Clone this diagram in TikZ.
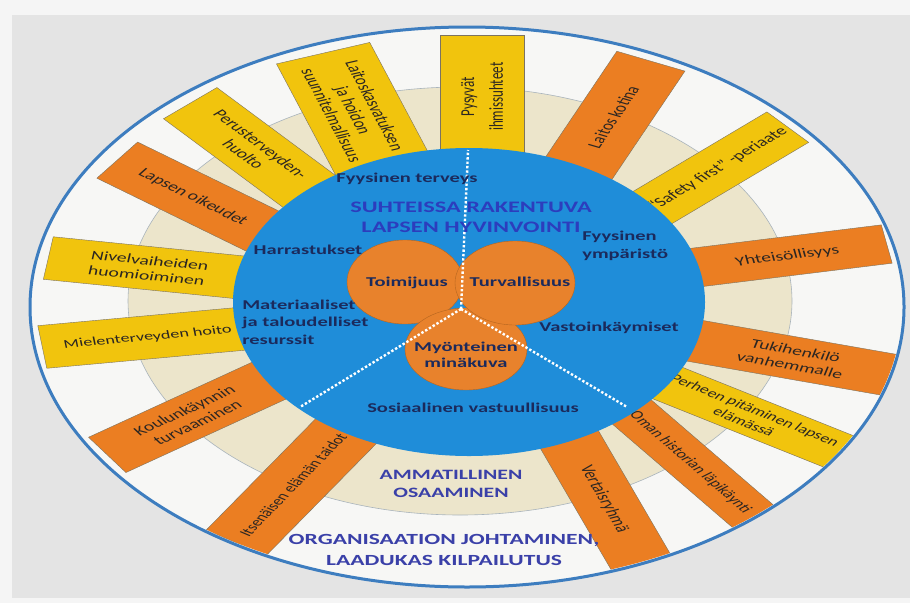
\documentclass[tikz,border=0pt]{standalone}
\usepackage{fontspec}
\setmainfont{Carlito}
\usepackage{xcolor}
\usepackage{tikz}
\definecolor{paperwhite}{HTML}{F5F5F5}
\definecolor{pagegray}{HTML}{E4E4E4}
\definecolor{ringwhite}{HTML}{F7F7F5}
\definecolor{ringbeige}{HTML}{ECE5CB}
\definecolor{beigeline}{HTML}{A9B4BC}
\definecolor{hubblue}{HTML}{1F8DD9}
\definecolor{rimblue}{HTML}{3D7DBF}
\definecolor{barorange}{HTML}{EB7E22}
\definecolor{baryellow}{HTML}{F1C40D}
\definecolor{barline}{HTML}{7C7360}
\definecolor{bartext}{HTML}{2B2622}
\definecolor{coreorange}{HTML}{E8822C}
\definecolor{coreline}{HTML}{B5651F}
\definecolor{labelnavy}{HTML}{1B2A5C}
\definecolor{titleblue}{HTML}{2C3DBD}
\definecolor{capsblue}{HTML}{3A40A8}
\tikzset{
	strip/.style={
		,draw			= barline
		,line width		= 0.4pt
		,inner sep		= 1pt
		,align			= center
		,text			= bartext
		,font			= \fontsize{13}{15}\selectfont
	}
	,rstrip/.style	 = {strip, anchor = east}
	,lstrip/.style	 = {strip, anchor = west}
	,ob/.style		 = {fill = barorange}
	,yb/.style		 = {fill = baryellow}
	,small/.style	 = {font = \fontsize{12}{14}\selectfont}
	,core/.style	 = {fill = coreorange, draw = coreline, line width = 0.4pt}
	,lbl/.style		 = {text = labelnavy, inner sep = 0pt, font = \bfseries\fontsize{13.5}{17.5}\selectfont}
	,head/.style	 = {text = titleblue, inner sep = 0pt, align = center, font = \bfseries\fontsize{16}{20}\selectfont}
	,caps/.style	 = {text = capsblue, inner sep = 0pt, align = center, font = \bfseries\fontsize{14.3}{18.5}\selectfont}
	,divider/.style	 = {white, line width = 2.4pt, dash pattern = on 2.4pt off 2pt}
}

\begin{document}
\begin{tikzpicture}[x=1pt, y=-1pt]

	\useasboundingbox (0,0) rectangle (910,603);

	% the page behind the wheel
	\fill[paperwhite] (0,0) rectangle (910,603);
	\fill[pagegray] (12,15) rectangle (910,598);

	\begin{scope}[xscale=1.52, x=0.657895pt, transform shape]

	% the rings
	\fill[ringwhite] (467,307) ellipse [x radius=437, y radius=280];
	\filldraw[fill=ringbeige, draw=beigeline, line width=0.6pt] (460,301) ellipse [x radius=332, y radius=214];

	% the strips
	\begin{scope}
		\clip (467,307) ellipse [x radius=435, y radius=278];

		\node[rstrip, yb, rotate=90,    minimum width=123pt, minimum height=55pt, font=\fontsize{13}{19}\selectfont] (pysyvat) at (482,35) {Pysyvät\\ihmissuhteet};
		\node[rstrip, ob, rotate=66.1,  minimum width=122pt, minimum height=49pt] (laitos)   at (651,61)  {Laitos kotina};
		\node[rstrip, yb, rotate=42.1,  minimum width=124pt, minimum height=41pt] (safety)   at (788,127) {``Safety first'' -periaate};
		\node[rstrip, ob, rotate=10.6,  minimum width=133pt, minimum height=39pt] (yhteis)   at (887,244) {Yhteisöllisyys};
		\node[rstrip, ob, rotate=-14.9, minimum width=140pt, minimum height=42pt] (tuki)     at (896,376) {Tukihenkilö\\vanhemmalle};
		\node[rstrip, yb, small, rotate=-31.3, minimum width=139pt, minimum height=37pt] (perhe) at (840,452) {Perheen pitäminen lapsen\\elämässä};
		\node[rstrip, ob, small, rotate=-52.6, minimum width=140pt, minimum height=35pt] (historia) at (755,518) {Oman historian läpikäynti};
		\node[rstrip, ob, rotate=-69,   minimum width=139pt, minimum height=42pt] (vertais)  at (642,564) {Vertaisryhmä};

		\node[lstrip, ob, small, rotate=57.1, minimum width=138pt, minimum height=47pt] (itsenainen) at (236,543) {Itsenäisen elämän taidot};
		\node[lstrip, ob, rotate=34.9,  minimum width=134pt, minimum height=43pt] (koulu)       at (107,455) {Koulunkäynnin\\turvaaminen};
		\node[lstrip, yb, small, rotate=7.9, minimum width=140pt, minimum height=43pt] (mieli)  at (42,347)  {Mielenterveyden hoito};
		\node[lstrip, yb, rotate=-8.7,  minimum width=133pt, minimum height=43pt] (nivel)       at (48,258)  {Nivelvaiheiden\\huomioiminen};
		\node[lstrip, ob, rotate=-36.6, minimum width=124pt, minimum height=45pt] (oikeudet)    at (117,160) {Lapsen oikeudet};
		\node[lstrip, yb, rotate=-48.4, minimum width=123pt, minimum height=47pt] (perus)       at (190,103) {Perusterveyden-\\huolto};
		\node[lstrip, yb, rotate=-70.7, minimum width=121pt, minimum height=65pt] (suunnitelma) at (323,53)  {Laitoskasvatuksen\\ja hoidon\\suunnitelmallisuus};
	\end{scope}

	% the hub and its three circles
	\fill[hubblue] (469,302) ellipse [x radius=236, y radius=154];
	\filldraw[core] (405,282) ellipse [x radius=58, y radius=42];
	\filldraw[core] (466,349) ellipse [x radius=61, y radius=41];
	\filldraw[core] (515,283) ellipse [x radius=60, y radius=42];

	% the dotted dividers
	\coordinate (hub)      at (461,309);
	\coordinate (upend)    at (468,150);
	\coordinate (leftend)  at (300,407);
	\coordinate (rightend) at (627,407);
	\draw[divider] (hub) -- (upend);
	\draw[divider] (hub) -- (leftend);
	\draw[divider] (hub) -- (rightend);

	% the hub texts
	\node[lbl] (terveys)      at (407,179) {Fyysinen terveys};
	\node[head] (title)       at (471,217) {SUHTEISSA RAKENTUVA\\LAPSEN HYVINVOINTI};
	\node[lbl, align=left, anchor=west] (ymparisto) at (582,246) {Fyysinen\\ympäristö};
	\node[lbl] (harrastukset) at (308,250) {Harrastukset};
	\node[lbl] (toimijuus)    at (407,283) {Toimijuus};
	\node[lbl] (turvallisuus) at (520,282) {Turvallisuus};
	\node[lbl, align=left, anchor=west] (resurssit) at (242,322) {Materiaaliset\\ja taloudelliset\\resurssit};
	\node[lbl] (vastoin)      at (609,328) {Vastoinkäymiset};
	\node[lbl, align=center, font=\bfseries\fontsize{13.5}{16.5}\selectfont] (minakuva) at (466,355) {Myönteinen\\minäkuva};
	\node[lbl] (sosiaalinen)  at (473,408) {Sosiaalinen vastuullisuus};

	% the ring texts
	\node[caps] (osaaminen) at (451,484) {AMMATILLINEN\\OSAAMINEN};
	\node[caps, font=\bfseries\fontsize{15.5}{21}\selectfont] (johtaminen) at (444,550) {ORGANISAATION JOHTAMINEN,\\LAADUKAS KILPAILUTUS};

	% the rim
	\draw[rimblue, line width=3pt] (467,307) ellipse [x radius=437, y radius=280];

	\end{scope}
\end{tikzpicture}
\end{document}
